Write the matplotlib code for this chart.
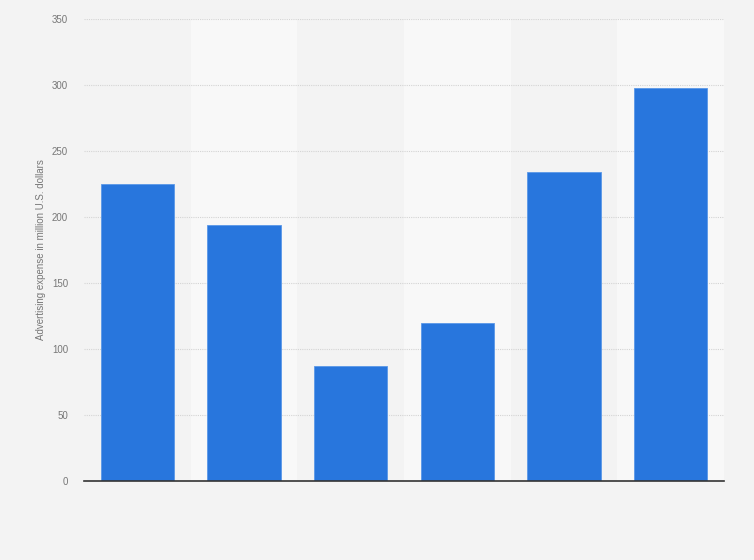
import matplotlib
matplotlib.use("Agg")
import matplotlib.pyplot as plt

plt.rcParams["font.family"] = ["Liberation Sans", "DejaVu Sans"]

categories = ["1", "2", "3", "4", "5", "6"]
values = [225, 194, 87, 120, 234, 298]
yticks = [0, 50, 100, 150, 200, 250, 300, 350]
ylabel = "Advertising expense in million U.S. dollars"

bg = "#f3f3f3"
band = "#f8f8f8"
fig = plt.figure(figsize=(7.54, 5.60), dpi=100, facecolor=bg)
ax = fig.add_axes([84/754, 1-481/560, 640/754, 462/560])
ax.set_facecolor(bg)
x = list(range(len(categories)))
for i in x:
    if i % 2 == 1:
        ax.axvspan(i - 0.5, i + 0.5, color=band, zorder=0, lw=0)
ax.bar(x, values, width=0.685, color="#2876dd", edgecolor="#5a98e8", linewidth=0.6, zorder=3)
ax.set_xlim(-0.5, len(categories) - 0.5)
ax.set_ylim(0, 350)
ax.set_yticks(yticks)
ax.set_yticklabels([str(t) for t in yticks], fontsize=7, color="#777777")
ax.set_xticks(x)
ax.set_xticklabels([""] * len(categories))
ax.tick_params(axis="both", length=0, pad=11.5)
ax.yaxis.grid(True, color="#d4d4d4", linestyle=(0, (1, 1)), linewidth=0.8, zorder=1)
ax.set_axisbelow(True)
for s in ["top", "right", "left"]:
    ax.spines[s].set_visible(False)
ax.spines["bottom"].set_color("#333333")
ax.spines["bottom"].set_linewidth(1.2)
ax.spines["bottom"].set_zorder(4)
ax.set_ylabel(ylabel, fontsize=7, color="#777777", labelpad=4)
fig.savefig("out.png", dpi=100, facecolor=bg)
